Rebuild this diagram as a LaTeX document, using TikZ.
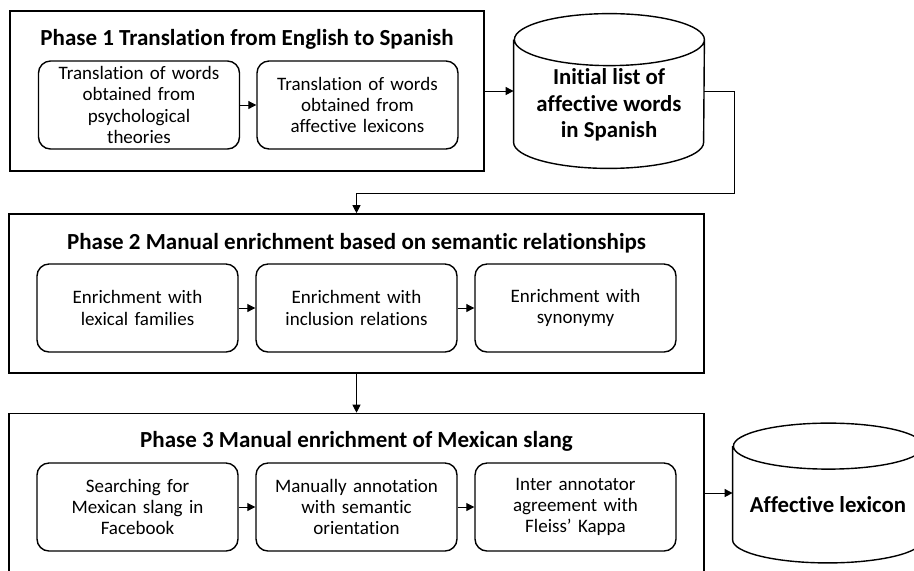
\documentclass[tikz,border=0pt]{standalone}
\usepackage{fontspec}
\setmainfont{Carlito}[Ligatures={TeX,NoCommon}]
\usetikzlibrary{arrows.meta, positioning}

\begin{document}
\begin{tikzpicture}
        [
            x=0.5pt, y=-0.5pt,
            phase/.style={draw, line width=0.8pt, minimum width=#1,
                          minimum height=79.5pt, inner sep=0pt},
            title/.style={anchor=base, inner sep=0pt,
                          font=\fontsize{11.5}{13.8}\selectfont\bfseries},
            task/.style={draw, rounded corners=6pt, line width=0.7pt,
                         minimum width=100.5pt, minimum height=44pt, inner sep=0pt,
                         text width=94pt, align=center,
                         font=\fontsize{9.5}{10.7}\selectfont},
            drum/.style={draw=none, inner sep=0pt, minimum width=95pt},
            drumtext/.style={align=center, inner sep=0pt,
                             font=\fontsize{11.4}{13.25}\selectfont\bfseries},
            arr/.style={-{Triangle[length=4pt,width=4pt]}, line width=0.5pt}
        ]
        \useasboundingbox (0,0) rectangle (914,570);
        \clip (0,0) rectangle (914,570);
        % phase boxes
        \node (phase1) [phase=237pt, minimum height=80pt] at (247,91) {};
        \node (phase2) [phase=347.5pt] at (356.5,293.5) {};
        \node (phase3) [phase=347.5pt] at (356.5,493) {};
        \node (t1) [title] at (247,45.7) {Phase 1 Translation from English to Spanish};
        \node (t2) [title] at (356.5,249) {Phase 2 Manual enrichment based on semantic relationships};
        \node (t3) [title] at (356.5,447.5) {Phase 3 Manual enrichment of Mexican slang};
        % phase 1
        \node (a1) [task] at (139,105) {Translation of words\\obtained from\\psychological\\theories};
        \node (a2) [task] at (357.5,105) {Translation of words\\obtained from\\affective lexicons};
        \draw [arr] (a1) -- (a2);
        % phase 2
        \foreach \t [count=\k] in {{Enrichment with\\lexical families},
                                   {Enrichment with\\inclusion relations},
                                   {Enrichment with\\synonymy}}{
            \node (b\k) [task] at (137.5+219*\k-219,308) {\t};
        }
        % phase 3
        \foreach \t [count=\k] in {{Searching for\\Mexican slang in\\Facebook},
                                   {Manually annotation\\with semantic\\orientation},
                                   {Inter annotator\\agreement with\\Fleiss' Kappa}}{
            \node (c\k) [task] at (137.5+219*\k-219,507) {\t};
        }
        \foreach \k/\j in {1/2,2/3}{
            \draw [arr] (b\k) -- (b\j);
            \draw [arr] (c\k) -- (c\j);
        }
        % word lists
        \node (lst) [drum, minimum height=51pt] at (609,91) {};
        \node (lex) [drum, minimum height=46.5pt] at (828,493) {};
        \foreach \n/\ry in {lst/13pt, lex/11.5pt}
            \draw [line width=0.7pt] (\n.north west) -- (\n.south west)
                arc [start angle=180, end angle=360, x radius=47.5pt, y radius=\ry]
                -- (\n.north east)
                arc [start angle=0, end angle=360, x radius=47.5pt, y radius=\ry];
        \node (lst-txt) [drumtext] at (609,105) {Initial list of\\affective words\\in Spanish};
        \node (lex-txt) [drumtext] at (828,505) {Affective lexicon};
        % connectors
        \coordinate (turn) at (734,193);
        \draw [arr] (phase1) -- (lst);
        \draw [arr] (lst.east) -| (turn) -| (phase2.north);
        \draw [arr] (phase2) -- (phase3);
        \draw [arr] (phase3) -- (lex);
    \end{tikzpicture}
\end{document}
